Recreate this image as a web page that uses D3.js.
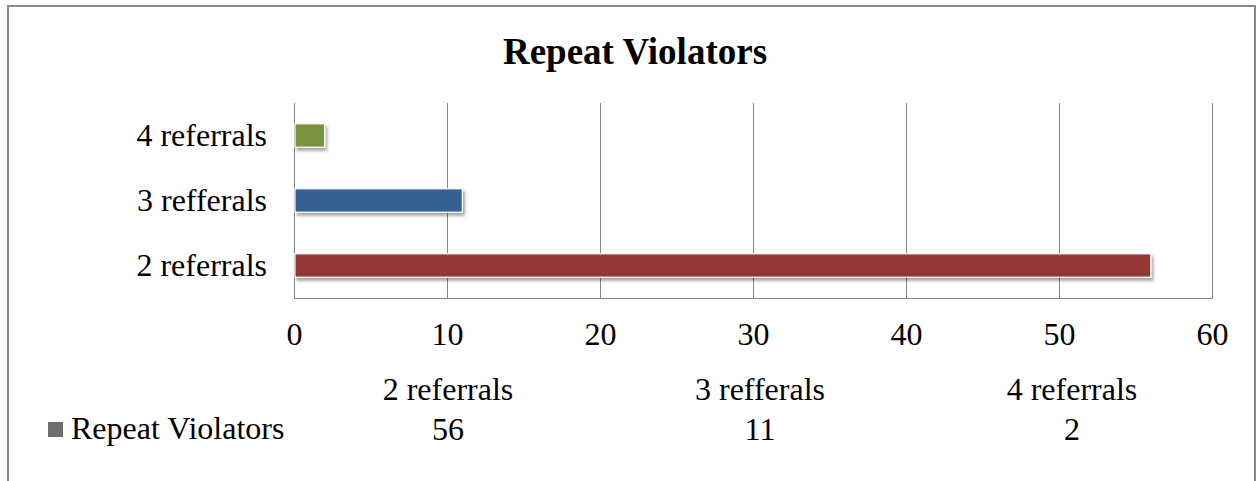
<!DOCTYPE html>
<html><head><meta charset="utf-8">
<script src="https://cdn.jsdelivr.net/npm/d3@7"></script>
<style>
html,body{margin:0;padding:0;background:#fff;}
svg{display:block;font-family:"Liberation Serif","Times New Roman",serif;}
</style></head>
<body><svg id="c" width="1257" height="481"></svg>
<script>
const title = "Repeat Violators";
const categories = ["2 referrals", "3 refferals", "4 referrals"];
const values = [56, 11, 2];
const colors = ["#953735", "#366092", "#77933C"];
const ticks = [0, 10, 20, 30, 40, 50, 60];
const seriesName = "Repeat Violators";

const FS = 32;
const svg = d3.select("#c");
const defs = svg.append("defs");
const f = defs.append("filter").attr("id","sh").attr("x","-10%").attr("y","-30%").attr("width","130%").attr("height","200%");
f.append("feDropShadow").attr("dx",2).attr("dy",3).attr("stdDeviation",1.6).attr("flood-color","#000").attr("flood-opacity",0.35);

// outer frame
svg.append("rect").attr("x",8).attr("y",6).attr("width",1247).attr("height",490)
  .attr("fill","#fff").attr("stroke","#888").attr("stroke-width",2);

const L = 294, R = 1212, T = 103, B = 298;
const x = d3.scaleLinear().domain([0, 60]).range([L, R]);
const y = d3.scaleBand().domain(categories.slice().reverse()).range([T, B]).paddingInner(0.64).paddingOuter(0.32);

// gridlines
svg.append("g").selectAll("line").data(ticks.slice(1)).join("line")
  .attr("x1", d => x(d) + 0.5).attr("x2", d => x(d) + 0.5)
  .attr("y1", T).attr("y2", B).attr("stroke","#868686").attr("stroke-width",1);

// axes lines
svg.append("line").attr("x1",L+0.5).attr("x2",L+0.5).attr("y1",T).attr("y2",B).attr("stroke","#868686");
svg.append("line").attr("x1",L).attr("x2",R+1).attr("y1",B+0.5).attr("y2",B+0.5).attr("stroke","#868686");

// bars
svg.append("g").selectAll("rect").data(categories).join("rect")
  .attr("x", x(0) + 1)
  .attr("y", d => y(d))
  .attr("width", (d,i) => x(values[i]) - x(0) - 1)
  .attr("height", y.bandwidth())
  .attr("fill", (d,i) => colors[i])
  .attr("stroke","#fff").attr("stroke-width",1.2)
  .attr("filter","url(#sh)");

// category labels
svg.append("g").selectAll("text").data(categories).join("text")
  .attr("x", 267).attr("y", d => y(d) + y.bandwidth()/2 + 10)
  .attr("text-anchor","end").attr("font-size",FS).attr("fill","#000")
  .text(d => d);

// x tick labels
const xAxis = d3.axisBottom(x).tickValues(ticks).tickSize(0).tickPadding(0);
const gx = svg.append("g").attr("transform", `translate(0,${B})`).call(xAxis);
gx.attr("font-family", null);
gx.select(".domain").remove();
gx.selectAll("text").attr("font-size",FS).attr("font-family","Liberation Serif, serif")
  .attr("fill","#000").attr("dy",null).attr("y",47);

// title
svg.append("text").attr("x", 635).attr("y", 64).attr("text-anchor","middle")
  .attr("font-size",37).attr("font-weight","bold").text(title);

// data table
const col = d3.scaleBand().domain(categories).range([292, 1228]);
svg.append("g").selectAll("text").data(categories).join("text")
  .attr("x", d => col(d) + col.bandwidth()/2).attr("y", 400)
  .attr("text-anchor","middle").attr("font-size",FS).text(d => d);
svg.append("g").selectAll("text").data(categories).join("text")
  .attr("x", d => col(d) + col.bandwidth()/2).attr("y", 440)
  .attr("text-anchor","middle").attr("font-size",FS).text((d,i) => values[i]);

// legend
svg.append("rect").attr("x",48).attr("y",422).attr("width",15).attr("height",15).attr("fill","#6e6e6e");
svg.append("text").attr("x",71).attr("y",439).attr("font-size",FS).text(seriesName);
</script></body></html>
